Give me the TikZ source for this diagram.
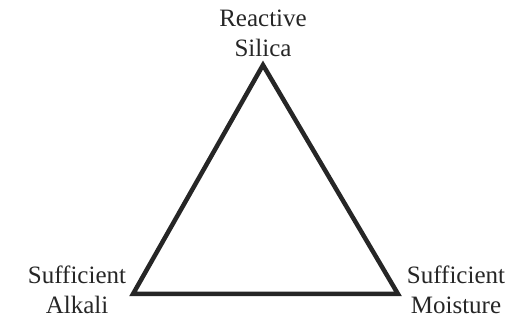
\documentclass[tikz,border=0pt]{standalone}
\usepackage{fontspec}
\setmainfont{Liberation Serif}
\begin{document}
\begin{tikzpicture}[x=1pt,y=-1pt,
  lbl/.style={align=center,font=\fontsize{25}{30}\selectfont,text=black!85,inner sep=0pt},
  tri/.style={draw=black!85,line width=4.5pt,line join=miter}]
\useasboundingbox (0,0) rectangle (515,323);
\coordinate (top) at (263,65);
\coordinate (left) at (133,294);
\coordinate (right) at (398,294);
\draw[tri] (top) -- (left) -- (right) -- cycle;
\node[lbl] (silica) at (263,33) {Reactive\\Silica};
\node[lbl] (alkali) at (77,290) {Sufficient\\Alkali};
\node[lbl] (moisture) at (456,290) {Sufficient\\Moisture};
\end{tikzpicture}
\end{document}
